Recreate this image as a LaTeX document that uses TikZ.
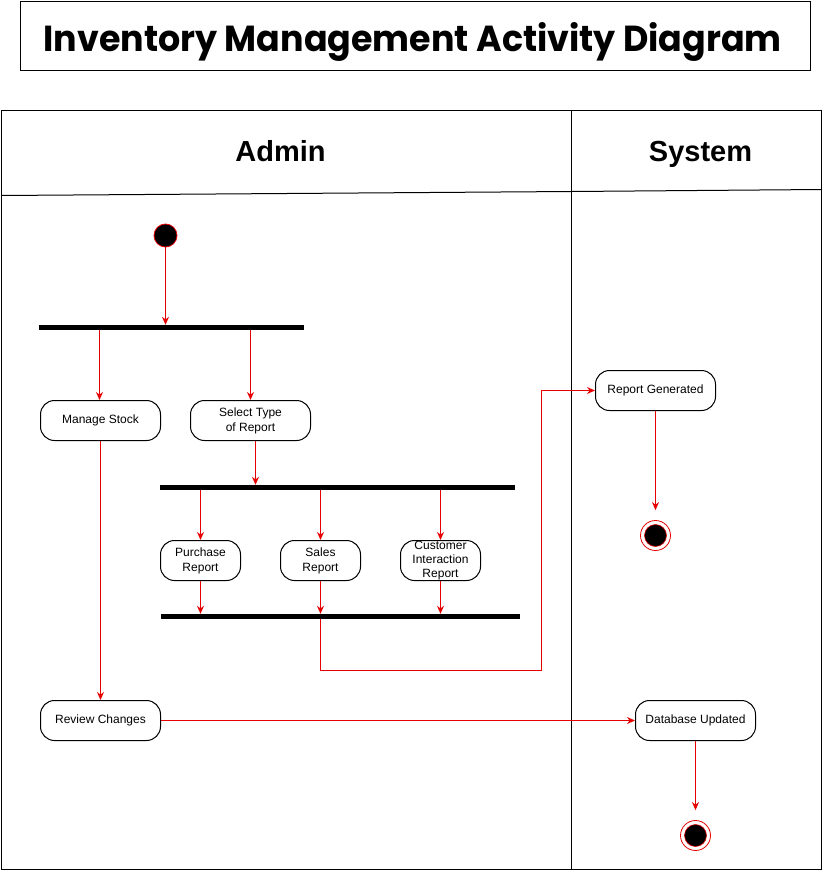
\documentclass[tikz,border=0pt]{standalone}
\usepackage{fontspec}
\setmainfont{Liberation Sans}
\newfontfamily\titlefont{Poppins}
\usetikzlibrary{arrows.meta}
\definecolor{lred}{RGB}{230,0,0}
\tikzset{
  act/.style={draw=black, line width=1pt, rounded corners=14pt, fill=white,
    minimum width=120pt, minimum height=40pt, inner sep=0pt, align=center,
    font=\fontsize{12}{15}\selectfont},
  smallact/.style={act, minimum width=80pt},
  bar/.style={fill=black, inner sep=0pt, minimum height=5pt},
  arr/.style={draw=lred, line width=1.2pt, -{Stealth[length=8pt,width=7pt]}},
  lane/.style={draw=black, line width=1pt},
  lanetitle/.style={font=\fontsize{29}{35}\selectfont\bfseries, anchor=base, inner sep=0pt},
  startnode/.style={circle, draw=lred, fill=black, minimum size=23pt, inner sep=0pt, line width=0.8pt},
  endouter/.style={circle, draw=lred, fill=white, minimum size=30pt, inner sep=0pt, line width=0.8pt},
  endinner/.style={circle, draw=lred, fill=black, minimum size=22pt, inner sep=0pt, line width=0.6pt},
}
\begin{document}
\begin{tikzpicture}[x=1pt,y=-1pt]
\useasboundingbox (0,0) rectangle (823,873);
\begin{scope}[shift={(0.5,0.5)}]
% title
\node[draw=black, line width=1pt, minimum width=790pt, minimum height=69pt, inner sep=0pt] (title) at (415,35.5) {};
\node[anchor=base west, inner sep=0pt] (titletext) at (43,50.7) {\resizebox{738pt}{29pt}{\titlefont\bfseries Inventory Management Activity Diagram}};
% pool
\draw[lane] (1,110) rectangle (821,869);
\draw[lane] (571,110) -- (571,869);
\draw[lane] (1,195) -- (571,191) -- (821,189);
\node[lanetitle] (admin) at (280,161) {Admin};
\node[lanetitle] (system) at (700,161) {System};
% nodes
\node[startnode] (start) at (165,235) {};
\node[bar, minimum width=265pt] (f1) at (170.5,327) {};
\node[act] (ms) at (100,420) {Manage Stock};
\node[act] (st) at (250,420) {Select Type\\of Report};
\node[bar, minimum width=355pt] (f2) at (336.5,487) {};
\node[smallact] (pr) at (200,560) {Purchase\\Report};
\node[smallact] (sr) at (320,560) {Sales\\Report};
\node[smallact, font=\fontsize{12}{14}\selectfont] (cr) at (440,560) {Customer\\Interaction\\Report};
\node[bar, minimum width=359pt] (f3) at (339.5,616) {};
\node[act] (rg) at (655,390) {Report Generated};
\node[endouter] (e1) at (655,535) {};
\node[endinner] (e1i) at (655,535) {};
\node[act] (rc) at (100,720) {Review Changes};
\node[act] (du) at (695,720) {Database Updated};
\node[endouter] (e2) at (695,835) {};
\node[endinner] (e2i) at (695,835) {};
\coordinate (c1) at (541,670);
% edges
\draw[arr] (start.south) -- (start.south |- f1.north);
\draw[arr] ([xshift=-1pt]ms.north |- f1.south) -- ([xshift=-1pt]ms.north);
\draw[arr] (st.north |- f1.south) -- (st.north);
\draw[arr] ([xshift=5pt]st.south) -- ([xshift=5pt]st.south |- f2.north);
\draw[arr] (pr.north |- f2.south) -- (pr.north);
\draw[arr] (sr.north |- f2.south) -- (sr.north);
\draw[arr] (cr.north |- f2.south) -- (cr.north);
\draw[arr] (pr.south) -- (pr.south |- f3.north);
\draw[arr] (sr.south) -- (sr.south |- f3.north);
\draw[arr] (cr.south) -- (cr.south |- f3.north);
\draw[arr] (sr.south |- f3.south) |- (c1) |- (rg.west);
\draw[arr] (rg.south) -- ([yshift=10pt]e1.north);
\draw[arr] (ms.south) -- (rc.north);
\draw[arr] (rc.east) -- (du.west);
\draw[arr] (du.south) -- ([yshift=10pt]e2.north);
\end{scope}
\end{tikzpicture}
\end{document}
